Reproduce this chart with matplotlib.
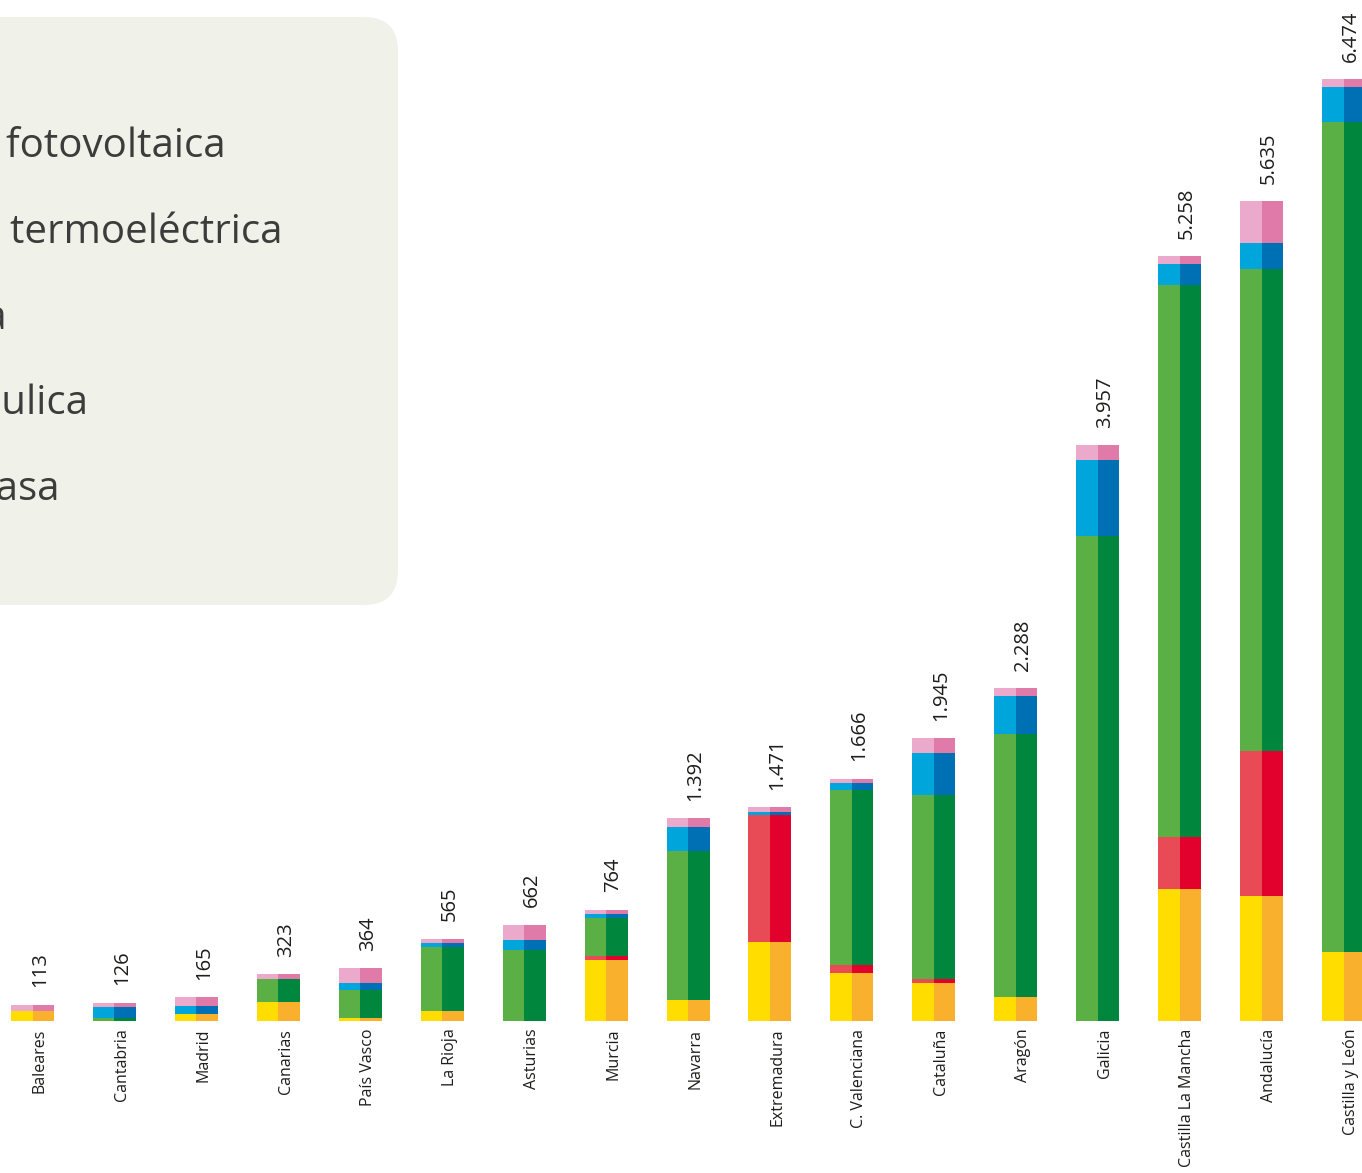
import numpy as np
import matplotlib
matplotlib.use("Agg")
import matplotlib.pyplot as plt
from matplotlib.patches import FancyBboxPatch

# ======================================
# DATA  (MW instalados por comunidad)
# ======================================
regiones = [
    "Baleares", "Cantabria", "Madrid", "Canarias", "País Vasco", "La Rioja",
    "Asturias", "Murcia", "Navarra", "Extremadura", "C. Valenciana",
    "Cataluña", "Aragón", "Galicia", "Castilla La Mancha", "Andalucía",
    "Castilla y León",
]
fotovoltaica = [70, 0, 51, 132, 21, 67, 0, 420, 142, 546, 333, 261, 162, 0, 909, 862, 475]
termoelectrica = [0, 0, 0, 0, 0, 0, 0, 27, 0, 870, 51, 25, 0, 0, 358, 996, 0]
eolica = [0, 22, 0, 160, 191, 442, 486, 263, 1025, 0, 1204, 1270, 1810, 3331, 3794, 3310, 5706]
hidraulica = [0, 74, 50, 0, 48, 24, 70, 23, 167, 23, 46, 288, 261, 523, 142, 176, 238]
biomasa = [43, 30, 64, 31, 104, 32, 106, 31, 58, 32, 32, 101, 55, 103, 55, 291, 55]

series_labels = ["Solar fotovoltaica", "Solar termoeléctrica", "Eólica", "Hidráulica", "Biomasa"]
series = [fotovoltaica, termoelectrica, eolica, hidraulica, biomasa]
# (light half, dark half)
colores = [
    ("#FFDD00", "#F9B12D"),
    ("#E84A56", "#E2002D"),
    ("#5AB045", "#00873D"),
    ("#00A5DC", "#0070B5"),
    ("#EBAACB", "#E07AA8"),
]

totales = np.sum(np.array(series), axis=0)

# ======================================
# FIGURE
# ======================================
W, H = 1362, 1173
fig = plt.figure(figsize=(W / 100, H / 100), dpi=100)
ax = fig.add_axes([0, 0, 1, 1])

x = np.arange(len(regiones))
bar_w = 0.525
half = bar_w / 2

bottom = np.zeros(len(regiones))
for vals, (c_light, c_dark) in zip(series, colores):
    vals = np.array(vals, dtype=float)
    ax.bar(x - half / 2, vals, width=half, bottom=bottom, color=c_light, linewidth=0)
    ax.bar(x + half / 2, vals, width=half, bottom=bottom, color=c_dark, linewidth=0)
    bottom += vals

txt_color = "#1D1D1B"
for xi, tot in zip(x, totales):
    ax.annotate(f"{tot:,}".replace(",", "."), (xi + 0.09, tot),
                xytext=(0, 12.5), textcoords="offset points",
                rotation=90, ha="center", va="bottom",
                fontsize=14.5, family=["Open Sans", "DejaVu Sans"], color=txt_color)

for xi, name in zip(x, regiones):
    ax.annotate(name, (xi + 0.09, 0), xytext=(0, -5.5), textcoords="offset points",
                rotation=90, ha="center", va="top", fontsize=11.5,
                family=["Open Sans", "DejaVu Sans"], color=txt_color)

# pixel mapping: bar 0 centred at 32.5 px, pitch 81.94 px; baseline 1021 px from top
pitch = 81.94
ax.set_xlim(-32.5 / pitch, (W - 32.5) / pitch)
k = 0.1455
ax.set_ylim(-(H - 1021) / k, 1021 / k)
ax.axis("off")


# ======================================
# LEGEND PANEL (partly off the left edge)
# ======================================
def fx(px):
    return px / W


def fy(py):
    return 1 - py / H


panel = FancyBboxPatch((fx(-400), fy(605)), fx(398) - fx(-400), fy(17) - fy(605),
                       boxstyle="round,pad=0,rounding_size=0.025",
                       transform=fig.transFigure, facecolor="#F0F2EA",
                       edgecolor="none", zorder=0, mutation_aspect=W / H)
fig.patches.append(panel)

legend_ends = [226, 283, 7, 88, 60]
legend_rows = [147, 233, 319, 404, 490]
for label, xe, yr in zip(series_labels, legend_ends, legend_rows):
    fig.text(fx(xe), fy(yr), label, ha="right", va="center", fontsize=29,
             family=["Open Sans", "DejaVu Sans"], color="#3C3C3B")

fig.savefig("out.png", dpi=100, facecolor="white")
